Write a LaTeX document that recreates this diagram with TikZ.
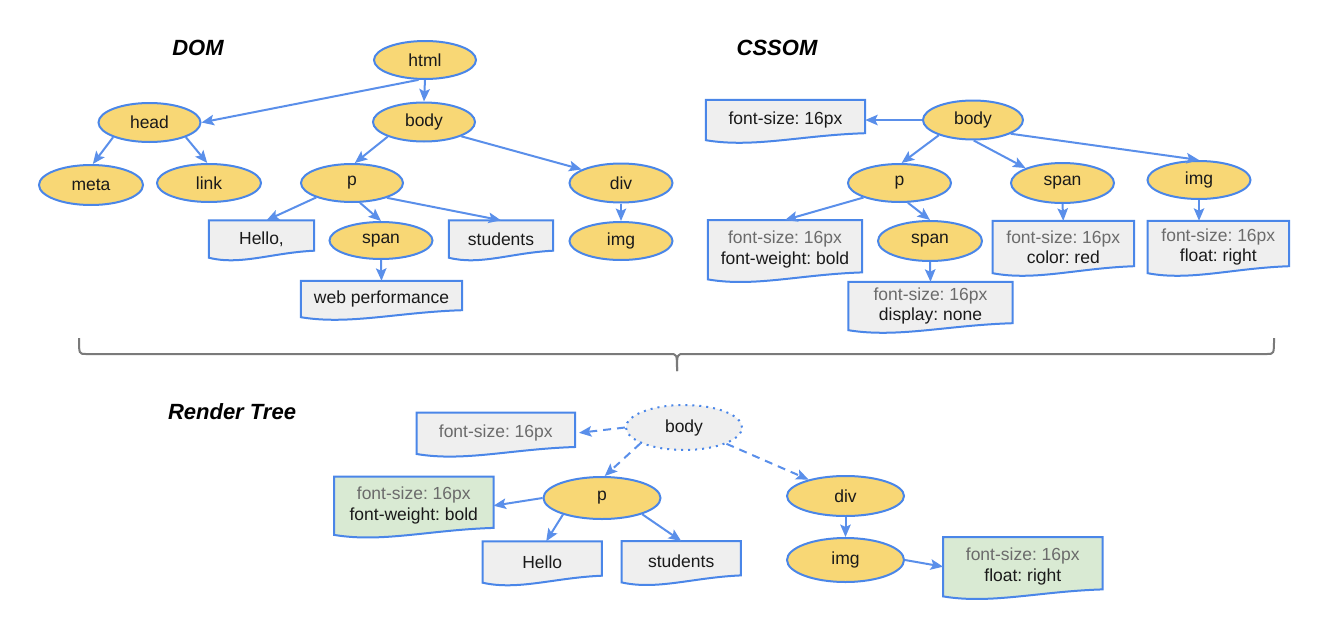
\documentclass[tikz,border=0pt]{standalone}
\usepackage{fontspec}
\setmainfont{Liberation Sans}
\frenchspacing
\usetikzlibrary{shapes.geometric,arrows.meta,calc,backgrounds}
\definecolor{yel}{HTML}{F8D775}
\definecolor{bl}{HTML}{4A86E8}
\definecolor{arr}{HTML}{5A8FEA}
\definecolor{boxg}{HTML}{EFEFEF}
\definecolor{grn}{HTML}{D9EAD3}
\definecolor{txt}{HTML}{1A1A1A}
\definecolor{gtxt}{HTML}{6B6B6B}
\definecolor{brc}{HTML}{7A7A7A}
\tikzset{
 el/.style={ellipse, draw=bl, line width=2pt, fill=yel, inner sep=0pt, text=txt, font=\fontsize{17.5}{20}\selectfont\frenchspacing},
 elw/.style 2 args={el, minimum width=#1pt, minimum height=#2pt},
 doc/.style={rectangle, inner sep=0pt, align=center, text=txt, font=\fontsize{17.5}{20.5}\selectfont\frenchspacing},
 docwh/.style 2 args={doc, minimum width=#1pt, minimum height=#2pt},
 docline/.style={draw=bl, line width=2pt, line join=miter},
 conn/.style={draw=arr, line width=2pt, -{Stealth[length=12.5pt,width=10.5pt,inset=2.5pt]}},
 dconn/.style={conn, dash pattern=on 8pt off 6pt},
 ttl/.style={font=\fontsize{22}{26}\selectfont\bfseries\itshape, text=black},
 bracestyle/.style={draw=brc, line width=2pt},
}
\newcommand\docshape[2]{%
 \begin{scope}[on background layer]
 \draw[docline, fill=#2] (#1.south west) -- (#1.north west) -- (#1.north east) -- ($(#1.south east)+(0,-7)$) .. controls ($(#1.south west)!0.6!(#1.south east)+(0,-5)$) and ($(#1.south west)!0.3!(#1.south east)+(0,8)$) .. (#1.south west) -- cycle;
 \end{scope}}
\begin{document}
\begin{tikzpicture}[x=1pt,y=-1pt]
\useasboundingbox (0,0) rectangle (1326,632);
% ---------------- DOM ----------------
\node[ttl] (tdom) at (198,48) {DOM};
\node[elw={102}{38}] (html) at (425,60) {html};
\node[elw={102}{39}] (head) at (149.5,122.5) {head};
\node[elw={102}{39}] (body) at (424,122) {body};
\node[elw={104}{40}] (meta) at (91,185) {meta};
\node[elw={104}{38}] (link) at (209,183) {link};
\node[elw={102}{38}] (p) at (352,183) {p};
\node[elw={103}{37}] (span) at (381,240.5) {span};
\node[elw={103}{39}] (div) at (621,183) {div};
\node[elw={103}{38}] (img) at (621,241) {img};
\node[docwh={105}{37}] (hello) at (261.5,239) {Hello,};
\docshape{hello}{boxg}
\node[docwh={104}{37}] (students) at (501,239) {students};
\docshape{students}{boxg}
\node[docwh={161}{36}] (web) at (381.5,299) {web performance};
\docshape{web}{boxg}
\draw[conn] (html.252) -- (head.east);
\draw[conn] (html.south) -- (body.north);
\draw[conn] (head.202) -- (meta.85);
\draw[conn] (head.338) -- (link.95);
\draw[conn] (body.202) -- (p.82);
\draw[conn] (body.339) -- (div.161);
\draw[conn] (p.202) -- ([xshift=5pt]hello.north);
\draw[conn] (p.292) -- (span.north);
\draw[conn] (p.337) -- (students.north);
\draw[conn] (span.south) -- (web.north);
\draw[conn] (div.south) -- (img.north);
% ---------------- CSSOM ----------------
\node[ttl] (tcssom) at (777,48) {CSSOM};
\node[elw={100}{39}] (cbody) at (973,120) {body};
\node[docwh={159}{40}] (cfs) at (785.5,120) {font-size: 16px};
\docshape{cfs}{boxg}
\node[elw={103}{38}] (cp) at (899.5,183) {p};
\node[elw={103}{40}] (cspan) at (1062.5,183) {span};
\node[elw={103}{38}] (cimg) at (1199,180) {img};
\node[elw={104}{40}] (cspanb) at (930,241) {span};
\node[docwh={154}{59}] (cfw) at (785,249.7) {\textcolor{gtxt}{font-size: 16px}\\font-weight: bold};
\docshape{cfw}{boxg}
\node[docwh={164}{48}] (cdisp) at (930.5,306) {\textcolor{gtxt}{font-size: 16px}\\display: none};
\docshape{cdisp}{boxg}
\node[docwh={141}{52}] (ccolor) at (1063.3,247) {\textcolor{gtxt}{font-size: 16px}\\color: red};
\docshape{ccolor}{boxg}
\node[docwh={141}{52}] (cfloat) at (1218.3,247) {\textcolor{gtxt}{font-size: 16px}\\float: right};
\docshape{cfloat}{boxg}
\draw[conn] (cbody.west) -- (cfs.east);
\draw[conn] (cbody.204) -- (cp.84);
\draw[conn] (cbody.272) -- (cspan.158);
\draw[conn] (cbody.340) -- (cimg.north);
\draw[conn] (cp.202) -- (cfw.north);
\draw[conn] (cp.293) -- (cspanb.north);
\draw[conn] (cspanb.south) -- (cdisp.north);
\draw[conn] (cspan.south) -- (ccolor.north);
\draw[conn] (cimg.south) -- (cimg.south |- cfloat.north);
% ---------------- brace ----------------
\coordinate (bl) at (79,338);
\coordinate (br) at (1274,338);
\coordinate (bm) at (677,371);
\draw[bracestyle] (bl) .. controls (79,354) .. (86,354) -- (670,354) .. controls (677,354) .. (bm);
\draw[bracestyle] (br) .. controls (1274,354) .. (1267,354) -- (684,354) .. controls (677,354) .. (bm);
% ---------------- Render tree ----------------
\node[ttl] (trender) at (232,412) {Render Tree};
\node[elw={116}{45}, fill=boxg, dash pattern=on 2pt off 5pt] (rbody) at (684,427.5) {body};
\node[docwh={158}{41}, text=gtxt] (rfs) at (495.8,433.3) {font-size: 16px};
\docshape{rfs}{boxg}
\node[elw={117}{42}] (rp) at (602,498) {p};
\node[elw={117}{40}] (rdiv) at (845.5,496) {div};
\node[elw={117}{44}] (rimg) at (845.5,560) {img};
\node[docwh={159}{58}] (rfw) at (413.8,505.7) {\textcolor{gtxt}{font-size: 16px}\\font-weight: bold};
\docshape{rfw}{grn}
\node[docwh={119}{41}] (rhello) at (542.2,562) {Hello};
\docshape{rhello}{boxg}
\node[docwh={119}{41}] (rstudents) at (681.2,561.7) {students};
\docshape{rstudents}{boxg}
\node[docwh={159}{59}] (rfloat) at (1022.8,566.7) {\textcolor{gtxt}{font-size: 16px}\\float: right};
\docshape{rfloat}{grn}
\draw[dconn, shorten >=4pt] (rbody.west) -- (rfs.east);
\draw[dconn] (rbody.200) -- (rp.83);
\draw[dconn] (rbody.339) -- (rdiv.156);
\draw[conn] (rp.west) -- (rfw.east);
\draw[conn] (rp.203) -- ([xshift=4pt]rhello.north);
\draw[conn] (rp.338) -- (rstudents.north);
\draw[conn] (rdiv.south) -- (rimg.north);
\draw[conn] (rimg.east) -- (rfloat.west);
\end{tikzpicture}
\end{document}
